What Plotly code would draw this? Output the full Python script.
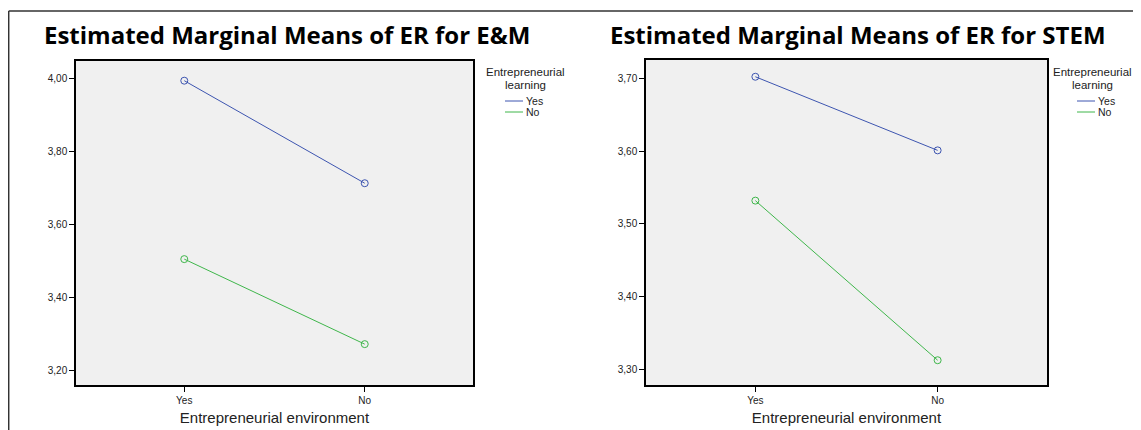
import plotly.graph_objects as go

# page body has an 8px margin; figure sized to fit the window
OFF = 8
W, H = 1141 - OFF, 430 - OFF

env_levels = ["Yes", "No"]
learning_levels = ["Yes", "No"]
legend_title_lines = ["Entrepreneurial", "learning"]
x_title = "Entrepreneurial environment"

em_title = "Estimated Marginal Means of ER for E&M"
em_yes = [3.993, 3.712]
em_no = [3.504, 3.271]
em_ticks = [3.20, 3.40, 3.60, 3.80, 4.00]

stem_title = "Estimated Marginal Means of ER for STEM"
stem_yes = [3.702, 3.601]
stem_no = [3.532, 3.313]
stem_ticks = [3.30, 3.40, 3.50, 3.60, 3.70]

BLUE = "#3d55b0"
GREEN = "#3fb64b"
COLORS = [BLUE, GREEN]


def px(x):
    return (x - OFF) / W


def py(y):
    return 1 - (y - OFF) / H


fig = go.Figure()

panels = [
    dict(title=em_title, series=[em_yes, em_no], ticks=em_ticks, xa="x", ya="y",
         xdom=(76, 473), ydom=(385, 61), yrange=(3.159, 4.047),
         title_x=42, leg_x=525, key_x=505),
    dict(title=stem_title, series=[stem_yes, stem_no], ticks=stem_ticks, xa="x2", ya="y2",
         xdom=(646, 1047), ydom=(385, 60), yrange=(3.279, 3.725),
         title_x=608, leg_x=1092, key_x=1077),
]

x_idx = [0, 1]

for p in panels:
    for name, vals, col in zip(learning_levels, p["series"], COLORS):
        fig.add_trace(go.Scatter(
            x=x_idx, y=vals, mode="lines+markers", name=name,
            xaxis=p["xa"], yaxis=p["ya"], showlegend=False,
            line=dict(color=col, width=1),
            marker=dict(symbol="circle-open", size=7, color=col, line=dict(width=1, color=col)),
        ))

layout = dict(
    width=W, height=H,
    margin=dict(l=0, r=0, t=0, b=0),
    paper_bgcolor="white",
    plot_bgcolor="#f0f0f0",
    separators=",.",
    showlegend=False,
    font=dict(family="Liberation Sans, Arial, sans-serif", color="#222"),
)

annotations = []
shapes = []
for i, p in enumerate(panels):
    sfx = "" if i == 0 else str(i + 1)
    layout["xaxis" + sfx] = dict(
        domain=[px(p["xdom"][0]), px(p["xdom"][1])],
        anchor="y" + sfx,
        range=[-0.6, 1.6],
        tickvals=x_idx, ticktext=env_levels,
        ticks="outside", ticklen=5, tickwidth=1, tickcolor="black",
        showline=True, linecolor="black", linewidth=1.5, mirror=True,
        showgrid=False, zeroline=False,
        tickfont=dict(size=10, color="#222"),
        title=dict(text=x_title, font=dict(size=15, color="#222"), standoff=8),
    )
    layout["yaxis" + sfx] = dict(
        domain=[py(p["ydom"][0]), py(p["ydom"][1])],
        anchor="x" + sfx,
        range=list(p["yrange"]),
        tickvals=p["ticks"], tickformat=".2f",
        ticks="outside", ticklen=5, tickwidth=1, tickcolor="black",
        showline=True, linecolor="black", linewidth=1.5, mirror=True,
        showgrid=False, zeroline=False,
        tickfont=dict(size=10, color="#222"),
    )
    annotations.append(dict(
        text="<b>" + p["title"] + "</b>", xref="paper", yref="paper",
        x=px(p["title_x"]), xanchor="left", y=py(35), yanchor="middle",
        showarrow=False, font=dict(family="Open Sans, sans-serif", size=24, color="black"),
    ))
    # legend (drawn by hand so that rows sit as tightly as in the original)
    for k, line in enumerate(legend_title_lines):
        annotations.append(dict(
            text=line, xref="paper", yref="paper",
            x=px(p["leg_x"]), xanchor="center", y=py(72 + 13 * k), yanchor="middle",
            showarrow=False, borderpad=0, font=dict(size=11.5, color="#222"),
        ))
    for j, (name, col) in enumerate(zip(learning_levels, COLORS)):
        ky = 101 + 11 * j
        shapes.append(dict(type="line", xref="paper", yref="paper",
                           x0=px(p["key_x"]), x1=px(p["key_x"] + 18), y0=py(ky), y1=py(ky),
                           line=dict(color=col, width=1)))
        annotations.append(dict(
            text=name, xref="paper", yref="paper",
            x=px(p["key_x"] + 20), xanchor="left", y=py(ky), yanchor="middle",
            showarrow=False, borderpad=0, font=dict(size=10.5, color="#222"),
        ))

# outer frame of the figure
shapes.append(dict(type="line", xref="paper", yref="paper", x0=px(8.7), x1=1, y0=py(11), y1=py(11),
                   line=dict(color="#333", width=1.5)))
shapes.append(dict(type="line", xref="paper", yref="paper", x0=px(8.7), x1=px(8.7), y0=py(11), y1=0,
                   line=dict(color="#333", width=1.5)))

layout["annotations"] = annotations
layout["shapes"] = shapes
fig.update_layout(**layout)

fig.write_html("out.html")
